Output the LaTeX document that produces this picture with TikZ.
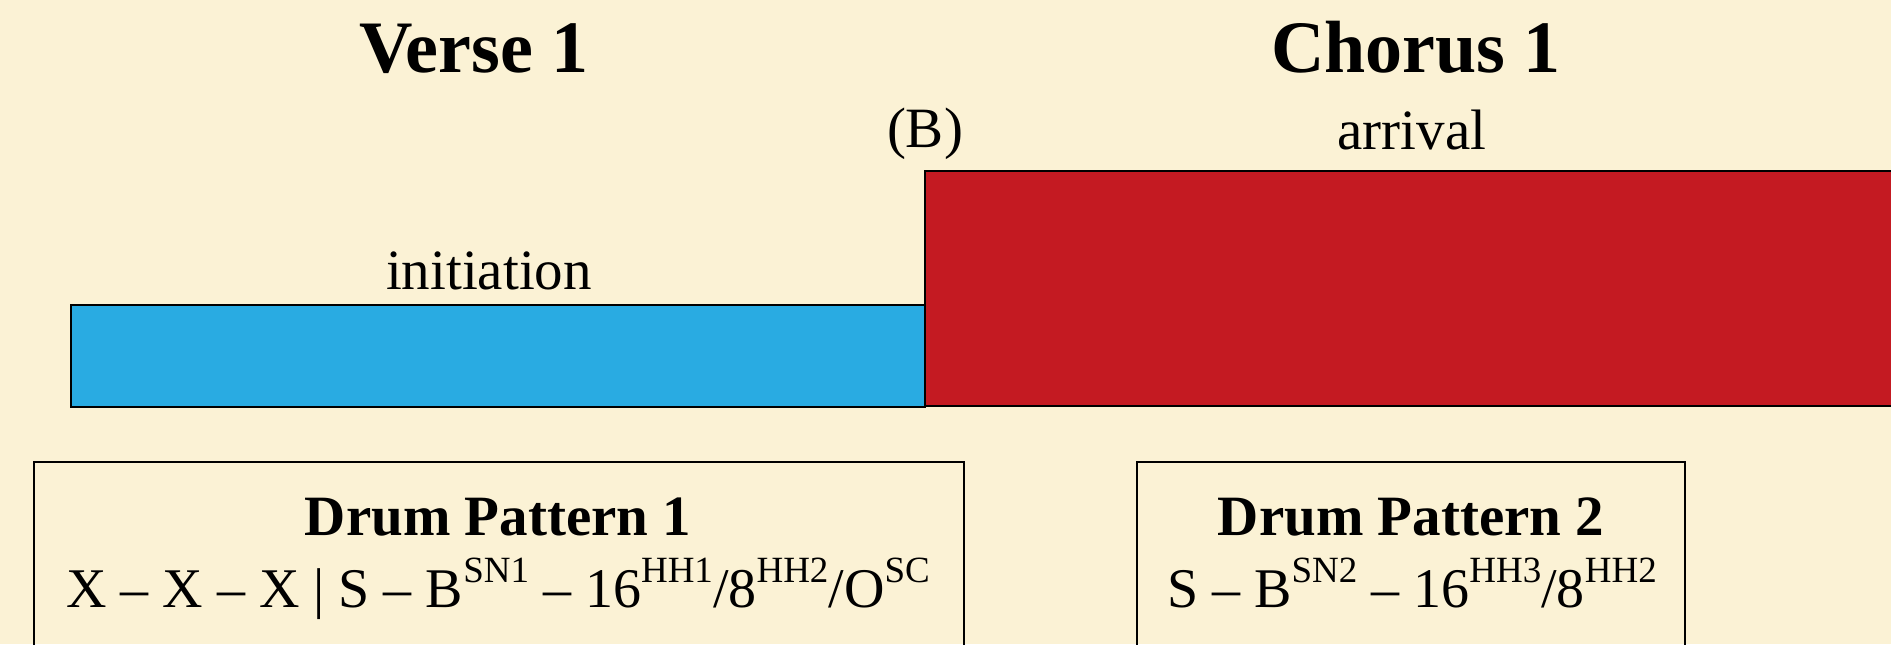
\documentclass[tikz,border=0pt]{standalone}
\usepackage{fontspec}
\setmainfont{Liberation Serif}
\definecolor{bg}{HTML}{FBF2D5}
\definecolor{cblue}{HTML}{29ABE2}
\definecolor{cred}{HTML}{C41A22}
\newcommand{\supx}[1]{\raisebox{0.44em}{\fontsize{18.5}{19}\selectfont #1}}
\begin{document}
\begin{tikzpicture}[x=0.5pt,y=-0.5pt,
  title/.style={font=\fontsize{37}{40}\selectfont\bfseries, anchor=base, inner sep=0},
  lbl/.style={font=\fontsize{28.5}{32}\selectfont, anchor=base, inner sep=0},
  patlbl/.style={font=\fontsize{28}{32}\selectfont, anchor=base, inner sep=0},
  boldlbl/.style={font=\fontsize{28.5}{32}\selectfont\bfseries, anchor=base, inner sep=0},
  bar/.style={draw=black, line width=1pt},
  frame/.style={draw=black, line width=1pt}]
\fill[bg] (0,0) rectangle (1891,644);
\useasboundingbox (0,0) rectangle (1891,644);
\clip (0,0) rectangle (1891,644);
% bars
\path[bar, fill=cred] (925,171) rectangle (1910,406);
\path[bar, fill=cblue] (71,305) rectangle (925,407);
% frames
\path[frame] (34,462) rectangle (964,670);
\path[frame] (1137,462) rectangle (1685,670);
% titles
\node[title] (verse) at (474,72) {Verse 1};
\node[title] (chorus) at (1416,72) {Chorus 1};
% labels
\node[lbl] (b) at (925,147) {(B)};
\node[lbl] (arrival) at (1412,149) {arrival};
\node[lbl] (initiation) at (489,289) {initiation};
% drum patterns
\node[boldlbl] (dp1) at (498,535) {Drum Pattern 1};
\node[patlbl] (dp1l) at (498,607) {X – X – X | S – B\supx{SN1} – 16\supx{HH1}/8\supx{HH2}/O\supx{SC}};
\node[boldlbl] (dp2) at (1411,535) {Drum Pattern 2};
\node[patlbl] (dp2l) at (1412,607) {S – B\supx{SN2} – 16\supx{HH3}/8\supx{HH2}};
\end{tikzpicture}
\end{document}
